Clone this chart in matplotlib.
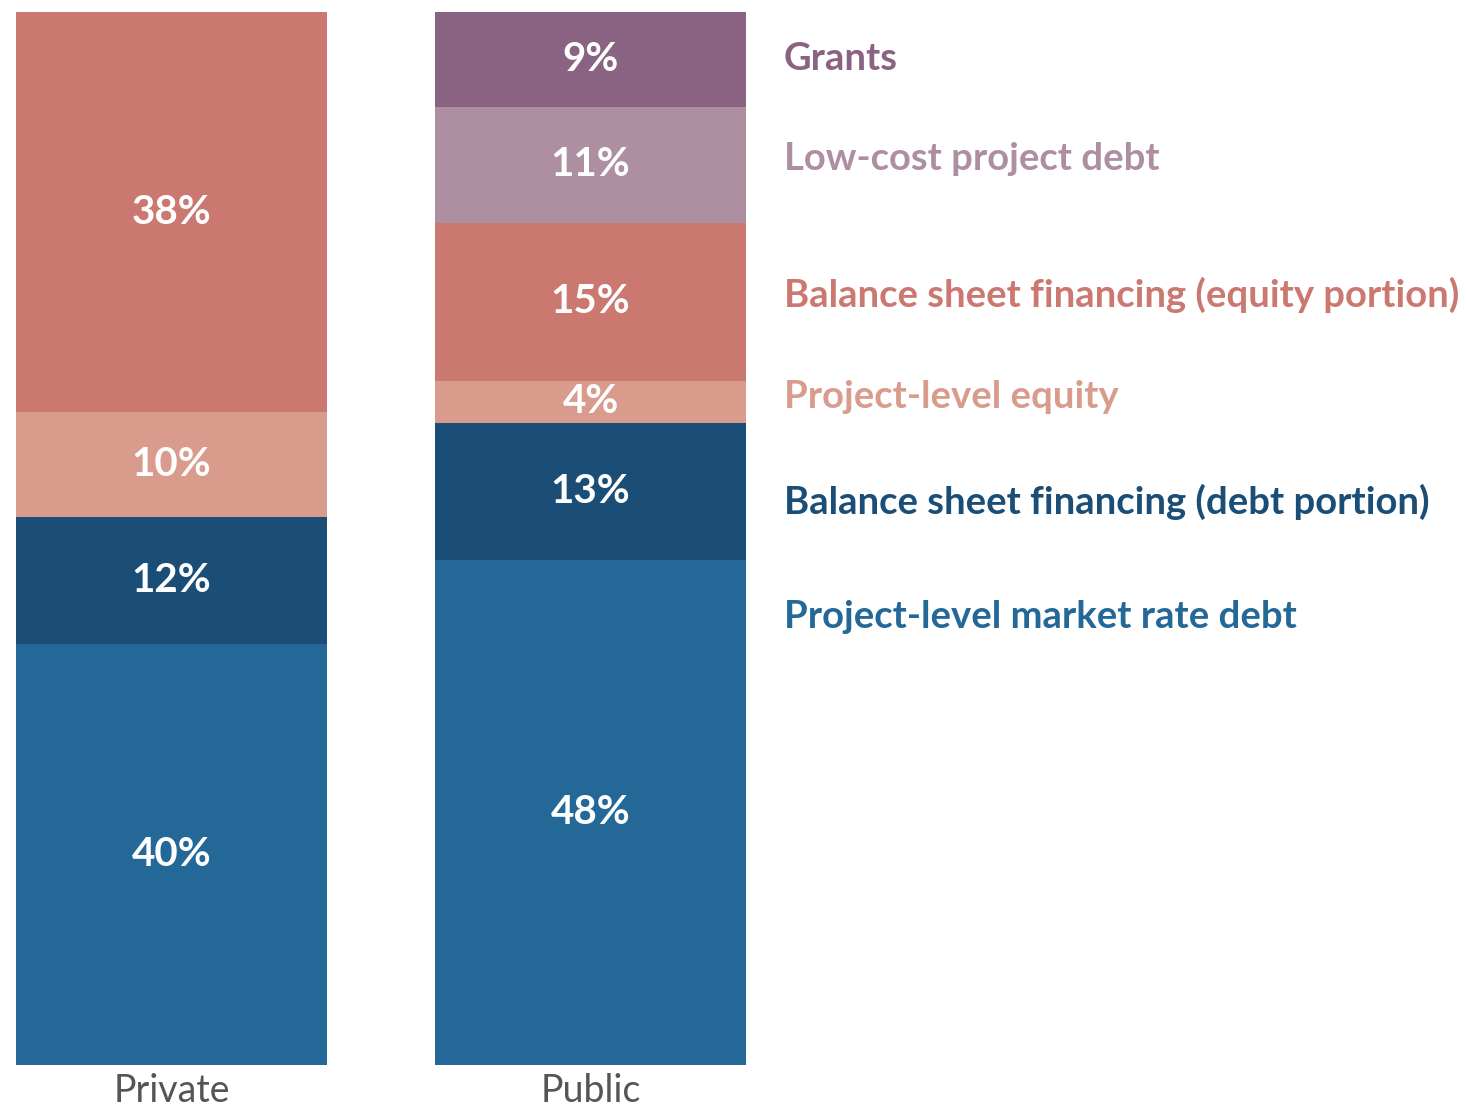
import numpy as np
import matplotlib
matplotlib.use('Agg')
import matplotlib.pyplot as plt

plt.rcParams['font.family'] = ['Lato', 'DejaVu Sans']

categories = ['Private', 'Public']
series = ['Project-level market rate debt', 'Balance sheet financing (debt portion)',
          'Project-level equity', 'Balance sheet financing (equity portion)',
          'Low-cost project debt', 'Grants']
values = {
    'Project-level market rate debt': [40, 48],
    'Balance sheet financing (debt portion)': [12, 13],
    'Project-level equity': [10, 4],
    'Balance sheet financing (equity portion)': [38, 15],
    'Low-cost project debt': [0, 11],
    'Grants': [0, 9],
}
colors = ['#246897', '#1a4e77', '#d99b8b', '#cb7870', '#ae8fa2', '#8b6382']
# where the right-hand labels sit (in % units)
label_y = [42.5, 53.5, 63.4, 73.1, 86.0, 95.5]

fig = plt.figure(figsize=(14.66, 11.09), dpi=100)
ax = fig.add_axes([16 / 1466, 44 / 1109, 730 / 1466, 1053 / 1109])

w = 311 / 419
x = np.arange(len(categories))
bottom = np.zeros(len(categories))
for s, c in zip(series, colors):
    v = np.array(values[s], dtype=float)
    ax.bar(x, v, width=w, bottom=bottom, color=c, linewidth=0)
    for xi, vi, bi in zip(x, v, bottom):
        if vi > 0:
            ax.text(xi, bi + vi / 2, f'{vi:.0f}%', ha='center', va='center',
                    color='white', fontsize=29, fontweight='bold')
    bottom += v

for s, c, ly in zip(series, colors, label_y):
    ax.text(1 + w / 2 + 38 / 419, ly, s, ha='left', va='center', color=c,
            fontsize=27.5, fontweight='bold', clip_on=False)

ax.set_xlim(-w / 2, 1 + w / 2)
ax.set_ylim(0, 100)
ax.set_xticks(x)
ax.set_xticklabels(categories, fontsize=27, color='#555555')
ax.tick_params(axis='x', length=0, pad=6)
ax.set_yticks([])
for sp in ax.spines.values():
    sp.set_visible(False)

fig.savefig('out.png', dpi=100)
